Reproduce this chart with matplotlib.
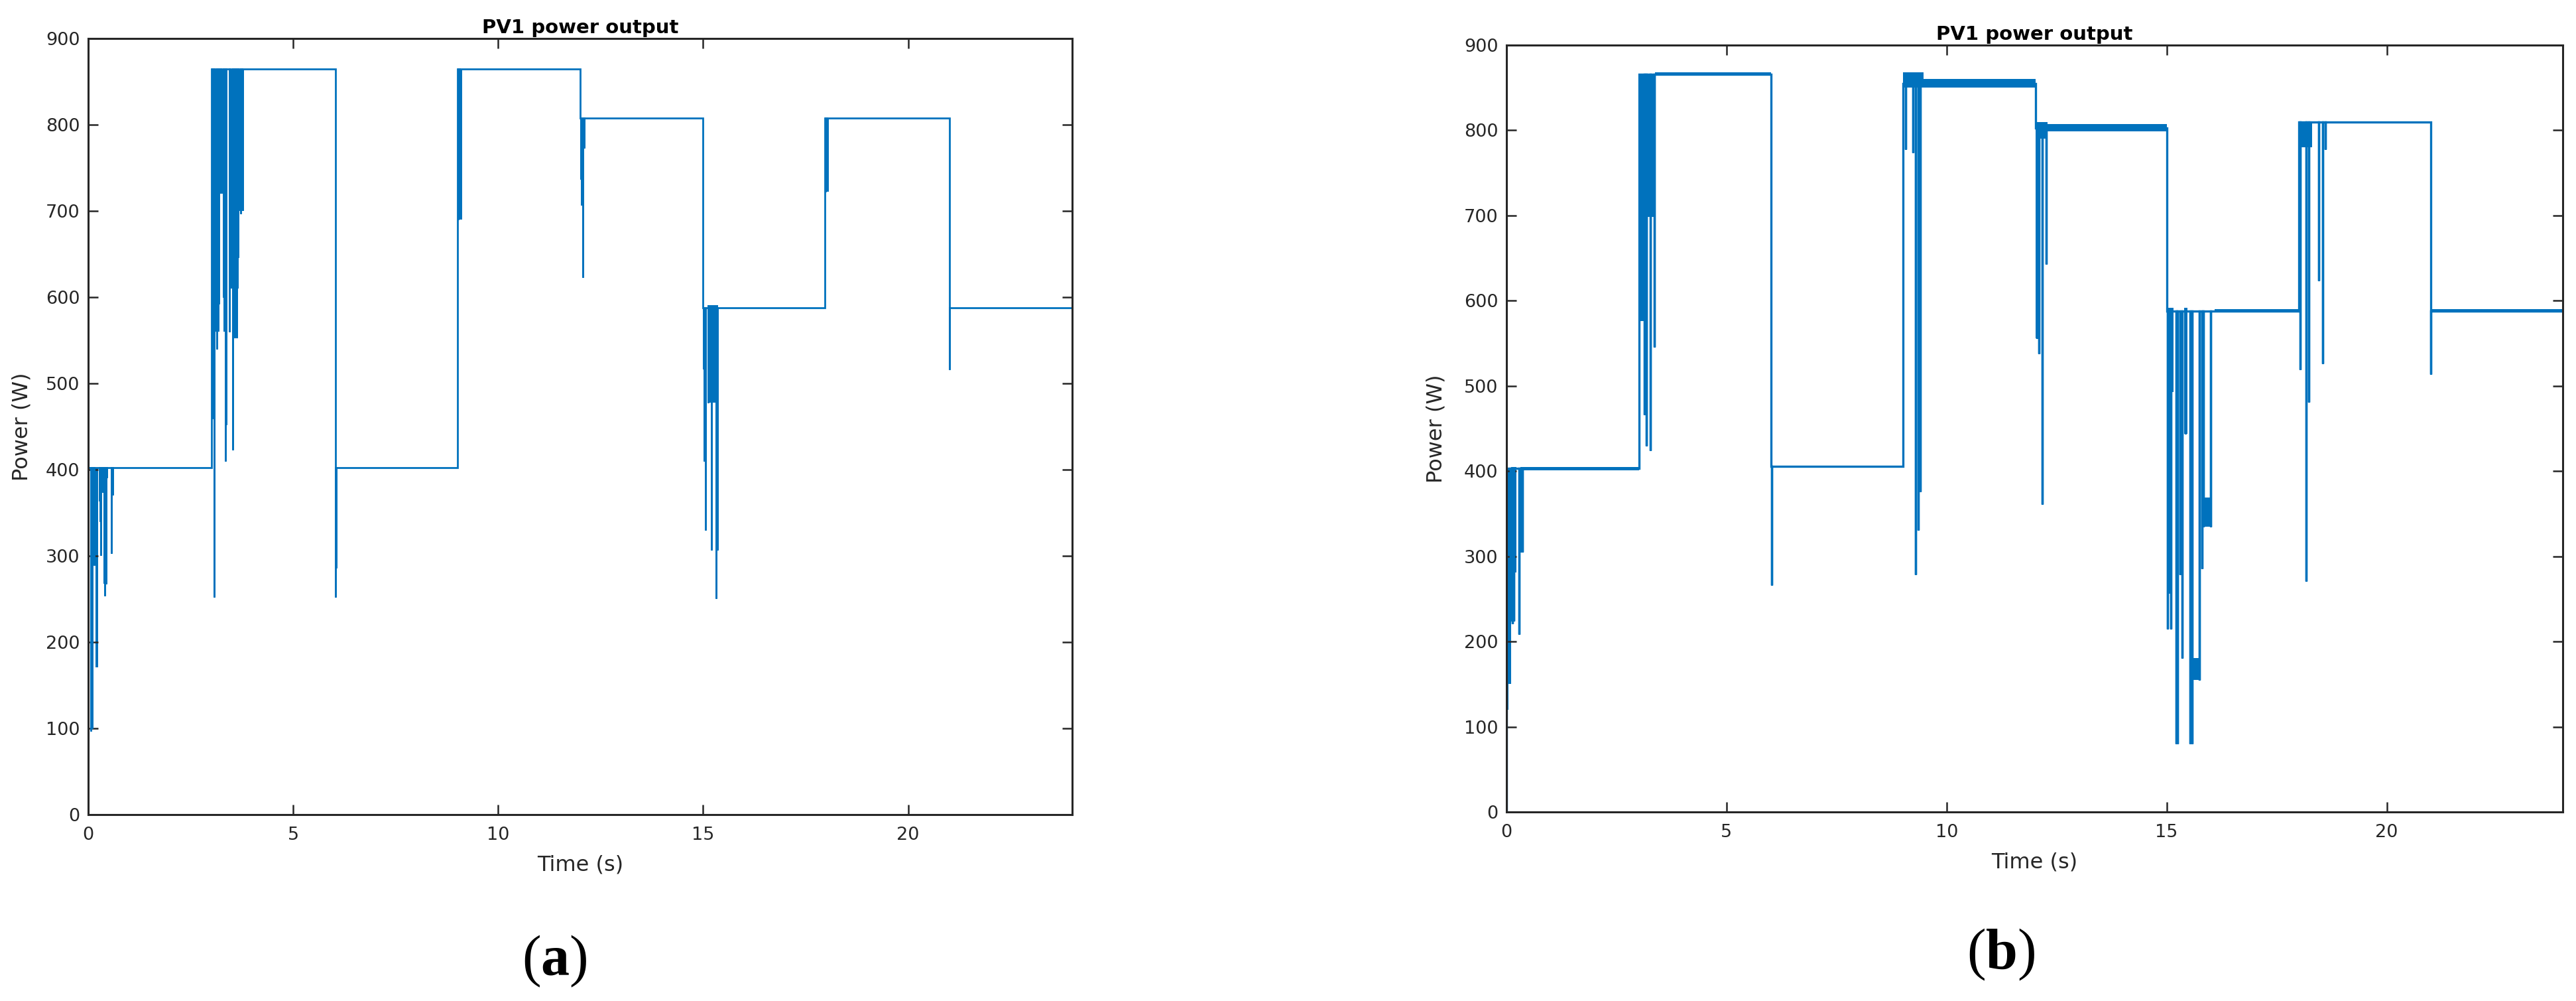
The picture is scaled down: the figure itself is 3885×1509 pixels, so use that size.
import matplotlib
matplotlib.use("Agg")
import matplotlib.pyplot as plt

plt.rcParams['font.family'] = ['DejaVu Sans']
plt.rcParams['mathtext.fontset'] = 'custom'
plt.rcParams['mathtext.rm'] = 'Liberation Serif'
plt.rcParams['mathtext.bf'] = 'Liberation Serif:bold'

# ---------------- data -----------------
x_ticks = [0, 5, 10, 15, 20]
y_ticks = [0, 100, 200, 300, 400, 500, 600, 700, 800, 900]
title_text = "PV1 power output"
x_label = "Time (s)"
y_label = "Power (W)"
panel_labels = ["a", "b"]

# Panel (a): step levels (W) between change times (s)
level_t_a = [0, 3.0, 6.03, 9.01, 12.0, 15.0, 17.97, 21.01, 24]
level_p_a = [402, 865, 402, 865, 808, 588, 808, 588]
# transient spikes (time s, power W)
spike_t_a = [0.06, 0.10, 0.12, 0.14, 0.27, 0.29, 0.31, 0.35, 0.40, 0.44, 0.46, 0.57, 0.60,
             3.02, 3.065, 3.13, 3.19, 3.23, 3.30, 3.35, 3.37, 3.45, 3.53, 3.57, 3.62, 3.66, 3.72, 3.76,
             6.03, 6.05, 9.02, 9.05, 12.02, 12.04, 12.06, 12.10,
             15.03, 15.05, 15.12, 15.21, 15.25, 15.31, 15.35, 17.98, 18.02, 21.01]
spike_p_a = [97, 100, 340, 289, 364, 340, 301, 374, 254, 268, 391, 303, 371,
             459, 252, 540, 592, 731, 600, 410, 452, 560, 423, 553, 553, 646, 697, 746,
             252, 286, 690, 700, 737, 707, 623, 773,
             410, 330, 478, 307, 492, 251, 307, 722, 767, 516]
# dense ripple bands (start s, end s, low W, high W)
band_t0_a = [0.0, 0.17, 0.38, 3.0, 3.2, 3.3, 3.43, 3.67, 6.03, 9.01, 12.0, 15.0, 15.10, 17.97]
band_t1_a = [0.04, 0.25, 0.46, 3.2, 3.3, 3.37, 3.67, 3.8, 6.07, 9.12, 12.1, 15.04, 15.36, 18.06]
band_lo_a = [164, 171, 268, 560, 720, 560, 610, 700, 286, 690, 740, 516, 478, 722]
band_hi_a = [402, 402, 402, 865, 865, 865, 865, 865, 402, 865, 808, 588, 591, 808]

# Panel (b)
level_t_b = [0, 3.01, 6.01, 9.01, 12.03, 15.01, 18.0, 21.0, 24]
level_p_b = [403, 866, 406, 855, 803, 588, 810, 588]
spike_t_b = [0.085, 0.095, 0.13, 0.16, 0.287, 0.33, 0.36,
             3.13, 3.18, 3.27, 3.36,
             6.02,
             9.07, 9.23, 9.29, 9.35, 9.40,
             12.05, 12.10, 12.18, 12.27,
             15.02, 15.05, 15.10, 15.22, 15.25, 15.30, 15.35, 15.43, 15.53, 15.58, 15.75, 15.80, 15.84, 16.00,
             18.04, 18.17, 18.23, 18.45, 18.54, 18.60,
             21.0]
spike_p_b = [316, 224, 221, 224, 209, 305, 305,
             466, 430, 424, 546,
             266,
             778, 774, 279, 331, 376,
             556, 538, 361, 643,
             215, 257, 215, 80, 80, 279, 181, 444, 80, 80, 155, 286, 335, 335,
             519, 271, 481, 624, 526, 778,
             514]
band_t0_b = [0.0, 0.05, 0.11, 0.31, 0.39, 3.01, 3.19, 3.37, 6.01, 9.01, 9.48, 12.03, 12.1, 12.3,
             15.02, 15.40, 15.55, 15.84, 16.09, 18.0, 21.0]
band_t1_b = [0.05, 0.10, 0.22, 0.39, 3.01, 3.13, 3.37, 6.01, 6.06, 9.48, 12.03, 12.1, 12.3, 15.01,
             15.16, 15.47, 15.73, 15.99, 18.0, 18.3, 24.0]
band_lo_b = [120, 150, 281, 370, 401, 576, 698, 864, 266, 850, 850, 556, 790, 799,
             493, 444, 155, 335, 586, 780, 586]
band_hi_b = [403, 403, 405, 405, 405, 866, 866, 868, 406, 868, 860, 810, 810, 807,
             592, 592, 181, 369, 590, 810, 590]

# ---------------- drawing -----------------
LINE_COLOR = '#0072BD'
AX_COLOR = '#262626'


def build_trace(lt, lp, st, sp):
    xs, ys = [0.0], [0.0]
    for i in range(len(lp)):
        t0, t1, lev = lt[i], lt[i + 1], lp[i]
        xs.append(t0); ys.append(lev)
        for t, v in sorted(zip(st, sp)):
            if t0 <= t < t1:
                xs += [t, t, t]
                ys += [lev, v, lev]
        xs.append(t1); ys.append(lev)
    return xs, ys


fig = plt.figure(figsize=(38.85, 15.09), dpi=100)
ax_a = fig.add_axes([133 / 3885, 1 - 1228 / 1509, (1617 - 133) / 3885, (1228 - 58) / 1509])
ax_b = fig.add_axes([2272 / 3885, 1 - 1224 / 1509, (3865 - 2272) / 3885, (1224 - 68) / 1509])

panels = [
    (ax_a, level_t_a, level_p_a, spike_t_a, spike_p_a, band_t0_a, band_t1_a, band_lo_a, band_hi_a, 2.0, 1449, 836),
    (ax_b, level_t_b, level_p_b, spike_t_b, spike_p_b, band_t0_b, band_t1_b, band_lo_b, band_hi_b, 2.4, 1439, 3018),
]

for (ax, lt, lp, st, sp, b0, b1, blo, bhi, lw, lab_y, lab_x), lab in zip(panels, panel_labels):
    xs, ys = build_trace(lt, lp, st, sp)
    ax.plot(xs, ys, color=LINE_COLOR, lw=lw, solid_joinstyle='miter')
    for t0, t1, lo, hi in zip(b0, b1, blo, bhi):
        ax.fill_between([t0, t1], [lo, lo], [hi, hi], color=LINE_COLOR, lw=0)
    ax.set_xlim(0, 24)
    ax.set_ylim(0, 900)
    ax.set_xticks(x_ticks)
    ax.set_yticks(y_ticks)
    ax.tick_params(direction='in', top=True, right=True, length=11, width=1.8,
                   colors=AX_COLOR, labelsize=19.5)
    ax.tick_params(axis='x', pad=13)
    ax.tick_params(axis='y', pad=9)
    for s in ax.spines.values():
        s.set_color(AX_COLOR)
        s.set_linewidth(2.2)
    ax.set_title(title_text, fontsize=21, fontweight='bold', color='black', pad=6)
    ax.set_xlabel(x_label, fontsize=23, color=AX_COLOR)
    ax.set_ylabel(y_label, fontsize=23, color=AX_COLOR)
    ax.xaxis.set_label_coords(0.5, -0.052)
    ax.yaxis.set_label_coords(-0.057, 0.5)
    fig.text(lab_x / 3885, 1 - lab_y / 1509, r'$\mathrm{(}\mathbf{%s}\mathrm{)}$' % lab,
             fontsize=62, ha='center', va='center')

fig.savefig('out.png', dpi=100, facecolor='white')
